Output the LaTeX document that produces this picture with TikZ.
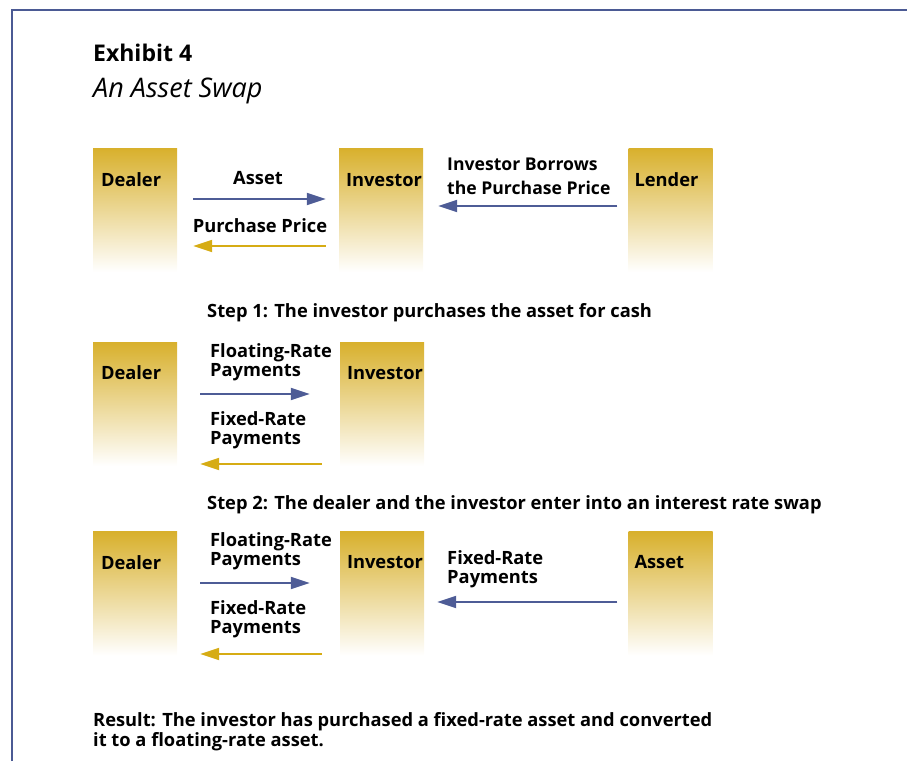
\documentclass[tikz,border=0pt]{standalone}
\usepackage{fontspec}
\setmainfont{Open Sans}
\usepackage{xcolor}
\usepackage{tikz}
\usetikzlibrary{arrows.meta, positioning}
\definecolor{framenavy}{HTML}{4B5A94}
\definecolor{flowblue}{HTML}{4E5C96}
\definecolor{flowgold}{HTML}{D6AC14}
\definecolor{partygold}{HTML}{D8B02C}

\begin{document}
\begin{tikzpicture}[x=1pt, y=-1pt, font=\bfseries\fontsize{18.3}{19}\selectfont,
    party/.style={minimum width=84pt, minimum height=124pt, inner sep=0pt,
      top color=partygold, bottom color=white},
    partyname/.style={anchor=west, inner sep=0pt},
    flowlabel/.style={align=left, anchor=west, inner sep=0pt},
    blueflow/.style={draw=flowblue, line width=2pt, -{Triangle[length=19pt,width=12pt]}},
    goldflow/.style={draw=flowgold, line width=2pt, -{Triangle[length=19pt,width=12pt]}}]
    \useasboundingbox (0,0) rectangle (907,761);

    % Frame
    \draw[framenavy, line width=1.5pt] (12,761) -- (12,10) -- (907,10);

    % Title
    \node[anchor=west, inner sep=0pt, font=\bfseries\fontsize{23}{25}\selectfont] (title) at (93,53) {Exhibit 4};
    \node[anchor=west, inner sep=0pt, font=\itshape\fontsize{27}{29}\selectfont] (subtitle) at (93,91) {An Asset Swap};

    % Step 1: dealer, investor, lender
    \node[party] (dealerA) at (135,210) {};
    \node[party] (investorA) at (381,210) {};
    \node[party] (lender) at (670.5,210) {};
    \node[partyname] at ([xshift=8pt, yshift=-32pt]dealerA.north west) {Dealer};
    \node[partyname] at ([xshift=7pt, yshift=-32pt]investorA.north west) {Investor};
    \node[partyname] at ([xshift=6pt, yshift=-32pt]lender.north west) {Lender};

    \draw[blueflow] ([xshift=16pt, yshift=11pt]dealerA.east) -- ([xshift=-13pt, yshift=11pt]investorA.west);
    \draw[goldflow] ([xshift=-13pt, yshift=-36pt]investorA.west) -- ([xshift=16pt, yshift=-36pt]dealerA.east);
    \draw[blueflow] ([xshift=-11pt, yshift=4pt]lender.west) -- ([xshift=15pt, yshift=4pt]investorA.east);
    \node[flowlabel, anchor=center] at (258,178) {Asset};
    \node[flowlabel, anchor=center] at (260,226) {Purchase Price};
    \node[flowlabel, font=\bfseries\fontsize{17.6}{24}\selectfont] at (447,176) {Investor Borrows\\the Purchase Price};

    \node[flowlabel] (stepA) at (207,313) {Step 1: The investor purchases the asset for cash};

    % Step 2: interest rate swap
    \node[party] (dealerB) at (135,404) {};
    \node[party] (investorB) at (382,404) {};
    \node[partyname] at ([xshift=8pt, yshift=-31pt]dealerB.north west) {Dealer};
    \node[partyname] at ([xshift=7pt, yshift=-31pt]investorB.north west) {Investor};

    \draw[blueflow] ([xshift=23pt, yshift=10pt]dealerB.east) -- ([xshift=-30pt, yshift=10pt]investorB.west);
    \draw[goldflow] ([xshift=-18pt, yshift=-60pt]investorB.west) -- ([xshift=23pt, yshift=-60pt]dealerB.east);
    \node[flowlabel] at (210,362) {Floating-Rate\\Payments};
    \node[flowlabel] at (210,430) {Fixed-Rate\\Payments};

    \node[flowlabel] (stepB) at (207,505) {Step 2: The dealer and the investor enter into an interest rate swap};

    % Step 3: the result
    \node[party] (dealerC) at (135,593.5) {};
    \node[party] (investorC) at (382,593.5) {};
    \node[party] (asset) at (670.5,593.5) {};
    \node[partyname] at ([xshift=8pt, yshift=-31pt]dealerC.north west) {Dealer};
    \node[partyname] at ([xshift=7pt, yshift=-31pt]investorC.north west) {Investor};
    \node[partyname] at ([xshift=6pt, yshift=-31pt]asset.north west) {Asset};

    \draw[blueflow] ([xshift=23pt, yshift=10.5pt]dealerC.east) -- ([xshift=-30pt, yshift=10.5pt]investorC.west);
    \draw[goldflow] ([xshift=-18pt, yshift=-60.5pt]investorC.west) -- ([xshift=23pt, yshift=-60.5pt]dealerC.east);
    \draw[blueflow] ([xshift=-11pt, yshift=-8.5pt]asset.west) -- ([xshift=13pt, yshift=-8.5pt]investorC.east);
    \node[flowlabel] at (210,551.5) {Floating-Rate\\Payments};
    \node[flowlabel] at (210,619.5) {Fixed-Rate\\Payments};
    \node[flowlabel] at (447,569.5) {Fixed-Rate\\Payments};

    \node[flowlabel, font=\bfseries\fontsize{18.3}{20}\selectfont] (result) at (93,732)
      {Result: The investor has purchased a fixed-rate asset and converted\\it to a floating-rate asset.};
\end{tikzpicture}
\end{document}
